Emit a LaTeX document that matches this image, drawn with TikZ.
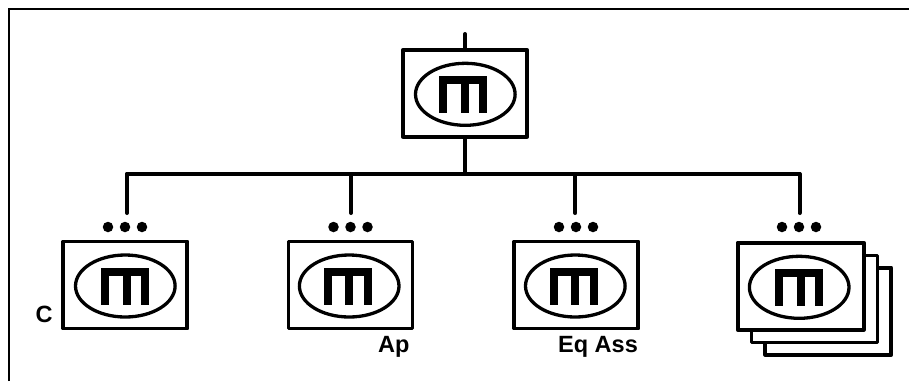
\documentclass[tikz,border=0pt]{standalone}
\usepackage{fontspec}
\setmainfont{Liberation Sans}
\tikzset{
  x=1pt,y=-1pt,
  box/.style={draw=black,fill=white,line width=3.8pt,line join=round,rectangle,minimum width=124pt,minimum height=87pt,inner sep=0pt,outer sep=0pt},
  oval/.style={draw=black,fill=white,line width=3.3pt},
  conn/.style={draw=black,line width=4pt},
  lab/.style={font=\bfseries\fontsize{23.5}{25}\selectfont,inner sep=0pt,anchor=base},
  dot/.style={circle,fill=black,minimum size=10.5pt,inner sep=0pt},
}
% #1,#2 ellipse centre, #3 x of the glyph's centre
\newcommand{\unitM}[3]{%
  \draw[oval] (#1,#2) ellipse [x radius=49.8,y radius=31];
  \begin{scope}[shift={(#3,#2)}]
    \fill[black] (-24,-18) rectangle (24,18.5);
    \fill[white] (-16,-10.5) rectangle (-2.7,19);
    \fill[white] (5.3,-10.5) rectangle (16,19);
  \end{scope}}
\begin{document}
\begin{tikzpicture}
\useasboundingbox (0,0) rectangle (909,381);
\draw[black,line width=1.8pt] (9,381) -- (9,9) -- (909,9);
\coordinate (topin) at (465,34);
\coordinate (hl) at (127,174);
\coordinate (hr) at (799.5,174);
\node[box] (t) at (465,93.3) {};
\node[box] (a) at (125.3,285) {};
\node[box] (b) at (350.5,285) {};
\node[box] (c) at (576.3,285) {};
\node[box,minimum width=126pt] (d3) at (828.3,311.2) {};
\node[box,minimum width=126pt] (d2) at (814.5,299) {};
\node[box,minimum width=126pt] (d) at (800.7,286.2) {};
\coordinate (bus) at (t.south |- hl);
\draw[conn,line cap=round] (topin) -- (t.north);
\draw[conn] (t.south) -- (bus);
\draw[conn,line cap=round] (hl) -- (hr);
\coordinate (da) at (127,213);
\coordinate (db) at (351,213);
\coordinate (dc) at (575.3,213);
\coordinate (dd) at (799.5,213);
\draw[conn,line cap=round] (hl -| da) -- (da);
\draw[conn,line cap=round] (hl -| db) -- (db);
\draw[conn,line cap=round] (hl -| dc) -- (dc);
\draw[conn,line cap=round] (hl -| dd) -- (dd);
\unitM{465.3}{94.3}{463.3}
\unitM{125.3}{286}{125.2}
\unitM{349.2}{286}{347.5}
\unitM{575.3}{286}{573.5}
\unitM{799.2}{287.3}{799.3}
\foreach \n/\cx in {a/125,b/350.5,c/576,d/799}{
  \node[dot] (\n1) at (\cx-17,227) {};
  \node[dot] (\n2) at (\cx,227) {};
  \node[dot] (\n3) at (\cx+17,227) {};
}
\node[lab] (lc) at (44,322) {C};
\node[lab] (lap) at (393.7,352.7) {Ap};
\node[lab] (leq) at (598,352.7) {Eq Ass};
\end{tikzpicture}
\end{document}
